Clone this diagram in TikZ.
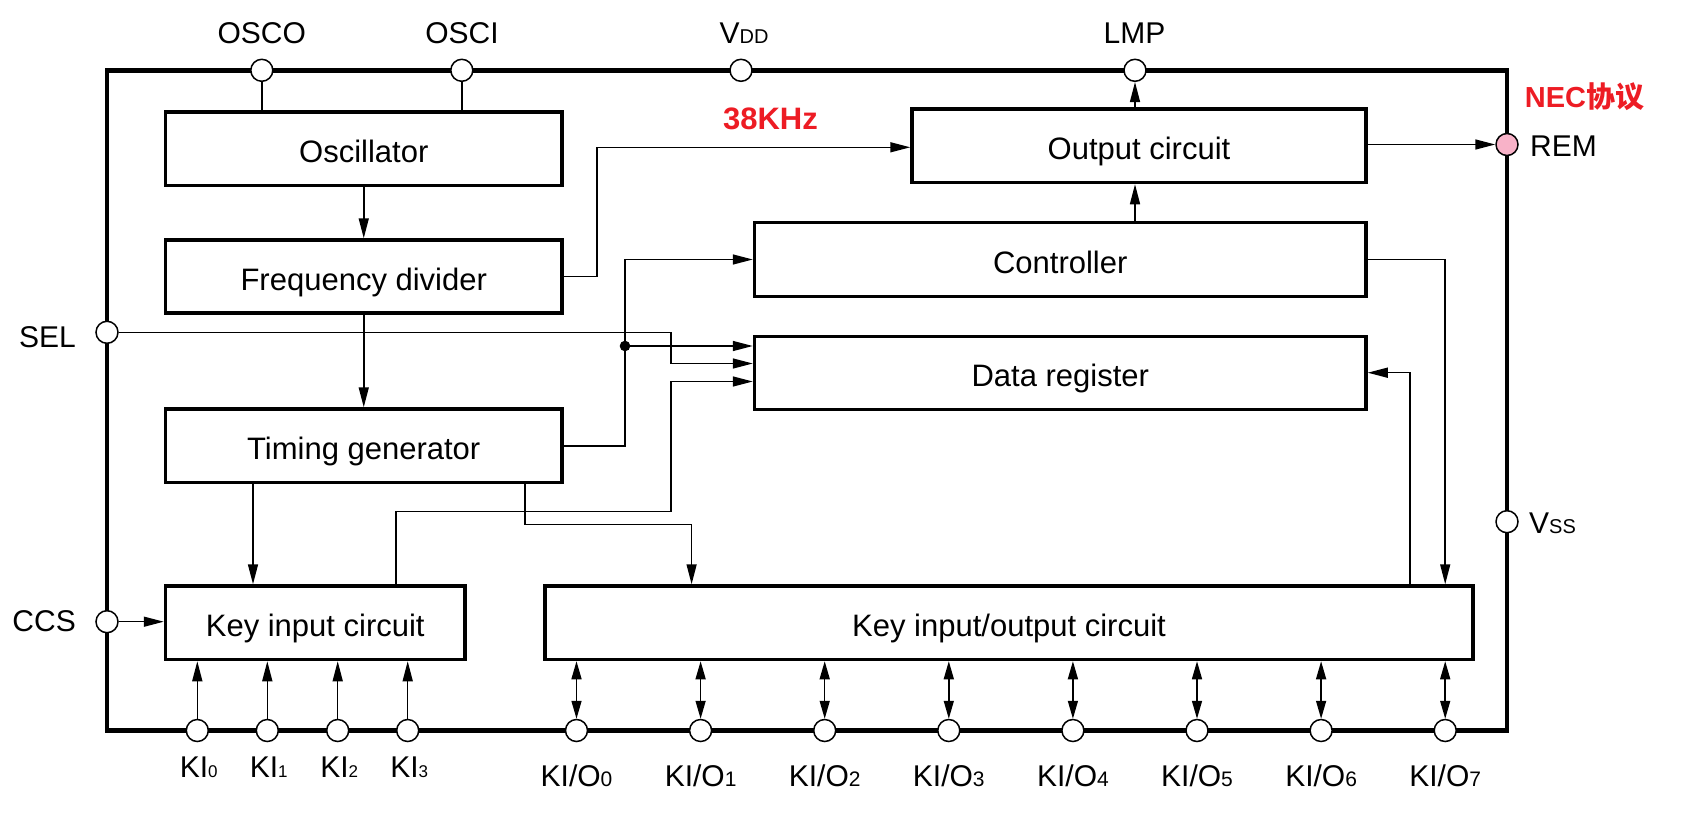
\documentclass[tikz,border=0pt]{standalone}
\usepackage{fontspec}
\setmainfont{Liberation Sans}
\newfontfamily\cjk{Noto Sans CJK SC}
\usetikzlibrary{arrows.meta}
\definecolor{necred}{RGB}{237,28,36}
\definecolor{rempink}{RGB}{248,178,200}
\newcommand\boxfont{\fontsize{31pt}{36pt}\selectfont}
\newcommand\lblfont{\fontsize{30pt}{36pt}\selectfont}
\newcommand\subA{\fontsize{20pt}{20pt}\selectfont}
\newcommand\subB{\fontsize{17pt}{17pt}\selectfont}
\newcommand\subC{\fontsize{21pt}{21pt}\selectfont}
\tikzset{
  blk/.style={draw, line width=3.5pt, inner sep=0pt, font=\boxfont, text height=27pt, text depth=0pt},
  pincirc/.style={circle, draw, fill=white, line width=1.5pt, minimum size=22pt, inner sep=0pt},
  lbl/.style={inner sep=0pt, font=\lblfont},
  redlbl/.style={inner sep=0pt, font=\fontsize{31pt}{36pt}\selectfont\bfseries, text=necred},
  conn/.style={line width=1.5pt},
  arr/.style={conn, -{Triangle[length=20pt,width=10pt]}},
  darr/.style={conn, {Triangle[length=18pt,width=10pt]}-{Triangle[length=18pt,width=10pt]}},
  dotc/.style={circle, fill=black, minimum size=10.6pt, inner sep=0pt}
}
\begin{document}
\begin{tikzpicture}[x=1pt,y=-1pt]
\useasboundingbox (0,0) rectangle (1686,824);
% chip frame
\node[draw, line width=4.5pt, minimum width=1400pt, minimum height=660.2pt, inner sep=0pt] (chip) at (807,400.4) {};
% blocks
\node[blk, minimum width=396.5pt, minimum height=73.5pt] (osc) at (363.75,148.75) {Oscillator};
\node[blk, minimum width=396.5pt, minimum height=73pt] (freq) at (363.75,276.5) {Frequency divider};
\node[blk, minimum width=396.5pt, minimum height=73.5pt] (timing) at (363.75,445.75) {Timing generator};
\node[blk, minimum width=299.5pt, minimum height=73.5pt] (keyin) at (315.25,622.75) {Key input circuit};
\node[blk, minimum width=928pt, minimum height=73.5pt] (keyio) at (1009,622.75) {Key input/output circuit};
\node[blk, minimum width=454pt, minimum height=73.5pt] (output) at (1139,145.75) {Output circuit};
\node[blk, minimum width=611.5pt, minimum height=74pt] (ctrl) at (1060.25,259.5) {Controller};
\node[blk, minimum width=611.5pt, minimum height=72.6pt] (datareg) at (1060.25,373) {Data register};
% pins
\node[pincirc] (osco) at (261.8,70.3) {};
\node[pincirc] (osci) at (461.8,70.3) {};
\node[pincirc] (vdd) at (741,70.3) {};
\node[pincirc] (lmp) at (1135,70.3) {};
\node[pincirc] (sel) at (107,332.3) {};
\node[pincirc] (ccs) at (107,621.7) {};
\node[pincirc, fill=rempink] (rem) at (1507,144.5) {};
\node[pincirc] (vss) at (1507,521.7) {};
\foreach \i/\x in {0/197.3,1/267.3,2/337.7,3/407.7}{
  \node[pincirc] (ki\i) at (\x,730.5) {};
  \node[lbl, anchor=base] (tki\i) at (\x+1.5,777) {KI{\subB \i}};
}
\foreach \i in {0,...,7}{
  \node[pincirc] (kio\i) at ({576.5+124.1*\i},730.5) {};
  \node[lbl, anchor=base] (tkio\i) at ({576.5+124.1*\i},786.7) {KI/O{\subC \i}};
}
% pin labels
\node[lbl, anchor=base] (tosco) at (261.8,43.3) {OSCO};
\node[lbl, anchor=base] (tosci) at (462,43.3) {OSCI};
\node[lbl, anchor=base] (tvdd) at (744,43.3) {V{\subA DD}};
\node[lbl, anchor=base] (tlmp) at (1134.5,43.3) {LMP};
\node[lbl, anchor=base east] (tsel) at (76,347) {SEL};
\node[lbl, anchor=base east] (tccs) at (76,631) {CCS};
\node[lbl, anchor=base west] (trem) at (1530,156.5) {REM};
\node[lbl, anchor=base west] (tvss) at (1529,533) {V{\subA SS}};
\node[redlbl, anchor=base] (f38) at (770.5,130) {38KHz};
\node[redlbl, anchor=base, font=\fontsize{29pt}{34pt}\selectfont\bfseries] (nec) at (1584.5,108) {NEC{\cjk 协议}};
% helper coordinates
\coordinate (fdjog) at (597,147.3);
\node[dotc] (dot) at (625,346) {};
\coordinate (selbend) at (671,363.5);
\coordinate (kijog) at (671,511.7);
\coordinate (kibend) at (671,381.5);
\coordinate (tgjog) at (691.6,524.3);
\coordinate (drfb) at (1410,372.7);
% connectors
\draw[conn] (osco.south) -- (osco.south |- osc.north);
\draw[conn] (osci.south) -- (osci.south |- osc.north);
\draw[arr] (osc.south) -- (freq.north);
\draw[arr] (freq.south) -- (timing.north);
\draw[arr] (freq.east) -| (fdjog) -- (fdjog -| output.west);
\draw[arr] (lmp.south |- output.north) -- (lmp.south);
\draw[arr] (rem.west -| output.east) -- (rem.west);
\draw[arr] (lmp |- ctrl.north) -- (lmp |- output.south);
\draw[arr] (ctrl.east) -| (kio7 |- keyio.north);
\draw[arr] (drfb |- keyio.north) -- (drfb) -- (drfb -| datareg.east);
\draw[arr] (timing.east) -| (dot.center) |- (ctrl.west);
\draw[arr] (dot.center) -- (dot.center -| datareg.west);
\draw[arr] (sel.east) -| (selbend) -- (selbend -| datareg.west);
\draw[arr] ([xshift=80.5pt]keyin.north) |- (kijog) -- (kibend) -- (kibend -| datareg.west);
\draw[arr] ([xshift=-110.75pt]timing.south) -- ([xshift=-110.75pt]timing.south |- keyin.north);
\draw[arr] ([xshift=161pt]timing.south) |- (tgjog) -- (tgjog |- keyio.north);
\draw[arr] (ccs.east) -- (ccs.east -| keyin.west);
\foreach \i in {0,...,3}{
  \draw[arr] (ki\i.north) -- (ki\i.north |- keyin.south);
}
\foreach \i in {0,...,7}{
  \draw[darr] (kio\i.north) -- (kio\i.north |- keyio.south);
}
\end{tikzpicture}
\end{document}
